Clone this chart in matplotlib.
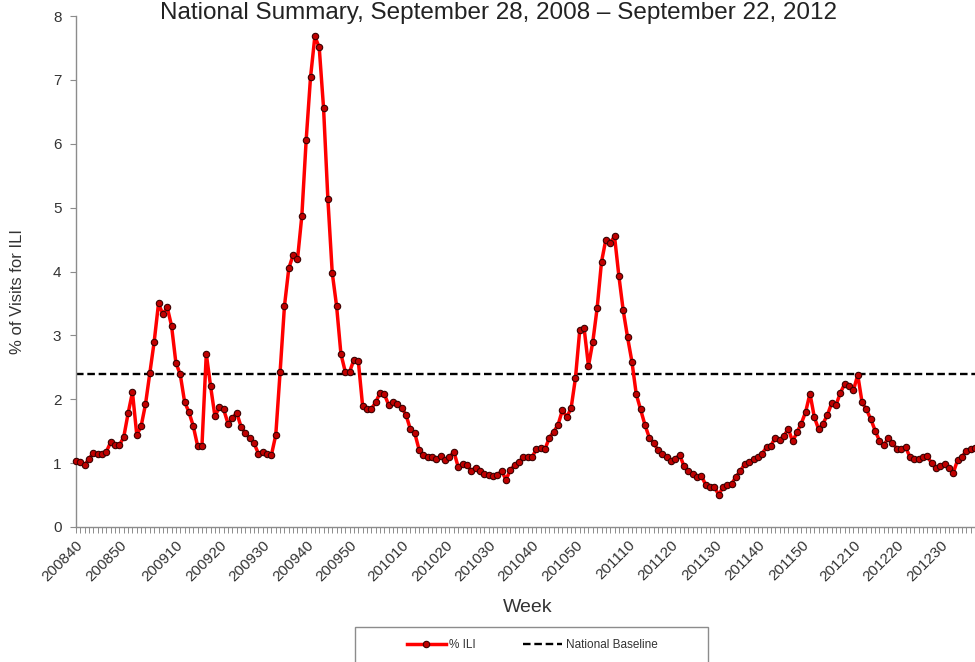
import matplotlib
matplotlib.use("Agg")
import matplotlib.pyplot as plt
from matplotlib.patches import Rectangle

plt.rcParams['font.family'] = ['Liberation Sans', 'DejaVu Sans']

# ----------------------------
# Data: weekly % ILI, 2008 wk40 .. 2012 wk38
# ----------------------------
season_weeks = [(2008, 40, 53), (2009, 1, 52), (2010, 1, 52), (2011, 1, 52), (2012, 1, 38)]
weeks = [f"{y}{w:02d}" for y, w0, w1 in season_weeks for w in range(w0, w1 + 1)]

ili_pct = [
    1.04, 1.02, 0.97, 1.07, 1.16, 1.14, 1.15, 1.18, 1.33, 1.28,
    1.28, 1.41, 1.78, 2.11, 1.44, 1.58, 1.92, 2.41, 2.90, 3.50,
    3.33, 3.44, 3.15, 2.57, 2.39, 1.96, 1.80, 1.58, 1.27, 1.27,
    2.71, 2.20, 1.73, 1.88, 1.84, 1.62, 1.70, 1.79, 1.57, 1.47,
    1.39, 1.31, 1.15, 1.18, 1.14, 1.13, 1.44, 2.43, 3.46, 4.05,
    4.26, 4.19, 4.87, 6.06, 7.04, 7.68, 7.51, 6.56, 5.13, 3.98,
    3.46, 2.71, 2.43, 2.43, 2.62, 2.60, 1.89, 1.84, 1.85, 1.95,
    2.10, 2.08, 1.91, 1.96, 1.92, 1.87, 1.75, 1.53, 1.47, 1.21,
    1.13, 1.09, 1.10, 1.06, 1.11, 1.05, 1.09, 1.18, 0.94, 0.99,
    0.97, 0.88, 0.93, 0.87, 0.83, 0.81, 0.80, 0.81, 0.88, 0.74,
    0.89, 0.97, 1.01, 1.10, 1.09, 1.09, 1.22, 1.23, 1.22, 1.40,
    1.49, 1.60, 1.83, 1.72, 1.86, 2.33, 3.09, 3.11, 2.52, 2.90,
    3.43, 4.15, 4.50, 4.45, 4.55, 3.93, 3.39, 2.97, 2.59, 2.08,
    1.84, 1.60, 1.40, 1.32, 1.20, 1.14, 1.10, 1.04, 1.07, 1.13,
    0.95, 0.88, 0.83, 0.79, 0.80, 0.66, 0.62, 0.63, 0.50, 0.63,
    0.66, 0.68, 0.79, 0.88, 0.99, 1.01, 1.06, 1.10, 1.15, 1.25,
    1.27, 1.40, 1.36, 1.42, 1.54, 1.34, 1.48, 1.62, 1.80, 2.09,
    1.72, 1.53, 1.62, 1.75, 1.94, 1.91, 2.10, 2.24, 2.21, 2.14,
    2.38, 1.95, 1.84, 1.69, 1.51, 1.35, 1.28, 1.39, 1.32, 1.22,
    1.22, 1.25, 1.10, 1.07, 1.07, 1.09, 1.11, 1.00, 0.92, 0.95,
    0.99, 0.93, 0.85, 1.05, 1.10, 1.19, 1.22, 1.24,
]
national_baseline = 2.4

tick_labels = ['200840', '200850', '200910', '200920', '200930', '200940', '200950',
               '201010', '201020', '201030', '201040', '201050', '201110', '201120',
               '201130', '201140', '201150', '201210', '201220', '201230']
title = "National Summary, September 28, 2008 \u2013 September 22, 2012"

# ----------------------------
# Figure
# ----------------------------
W, H = 975, 662
fig = plt.figure(figsize=(W / 100, H / 100), dpi=100)
ax = fig.add_axes([76 / W, (H - 527) / H, (W - 76) / W, (527 - 16) / H])

x = list(range(len(weeks)))
ax.plot(x, ili_pct, color='#ff0000', lw=2.5, marker='o', ms=4.6,
        mfc='#c00000', mec='#3a0000', mew=0.8, clip_on=False, zorder=3, label='% ILI')
ax.axhline(national_baseline, color='black', lw=1.7, dashes=(3.2, 1.6), zorder=2,
           label='National Baseline')

ax.set_ylim(0, 8)
ax.set_xlim(0, 207 * (W - 76) / 905)
ax.set_yticks(range(0, 9))
tick_pos = [weeks.index(t) for t in tick_labels]
ax.set_xticks(tick_pos)
ax.set_xticklabels(tick_labels, rotation=45, ha='right', rotation_mode='anchor')
ax.set_xticks(x, minor=True)

for s in ['top', 'right']:
    ax.spines[s].set_visible(False)
for s in ['left', 'bottom']:
    ax.spines[s].set_color('#8c8c8c')
    ax.spines[s].set_linewidth(1.0)

ax.tick_params(axis='y', direction='out', length=4.5, width=0.8, color='#8c8c8c',
               labelsize=11, labelcolor='#333333', pad=6)
ax.tick_params(axis='x', which='both', direction='out', length=4, width=0.7,
               color='#8c8c8c', labelsize=11, labelcolor='#333333', pad=4)

# title sits at the very top edge, kept fully inside the canvas
fig.text(499 / W, 1 - 19 / H, title, ha='center', va='baseline', fontsize=17.5, color='#222222')
fig.text(528 / W, 1 - 608 / H, 'Week', ha='center', va='center', fontsize=14, color='#333333')
fig.text(18 / W, 1 - 291 / H, '% of Visits for ILI', ha='center', va='center',
         rotation=90, fontsize=12, color='#333333')

# legend box (cut at bottom edge like the source)
fig.patches.append(Rectangle((355 / W, 0 - 0.02), (708 - 355) / W, (662 - 627) / H + 0.02,
                             transform=fig.transFigure, fill=False, ec='#8c8c8c', lw=1.0))
h, l = ax.get_legend_handles_labels()
fig.legend(h, l, ncol=2, loc='center', bbox_to_anchor=(532 / W, 1 - 645 / H),
           frameon=False, fontsize=8.5, handlelength=3.3, columnspacing=4.0,
           handletextpad=0.3, labelcolor='#333333')

fig.savefig('out.png', dpi=100)
